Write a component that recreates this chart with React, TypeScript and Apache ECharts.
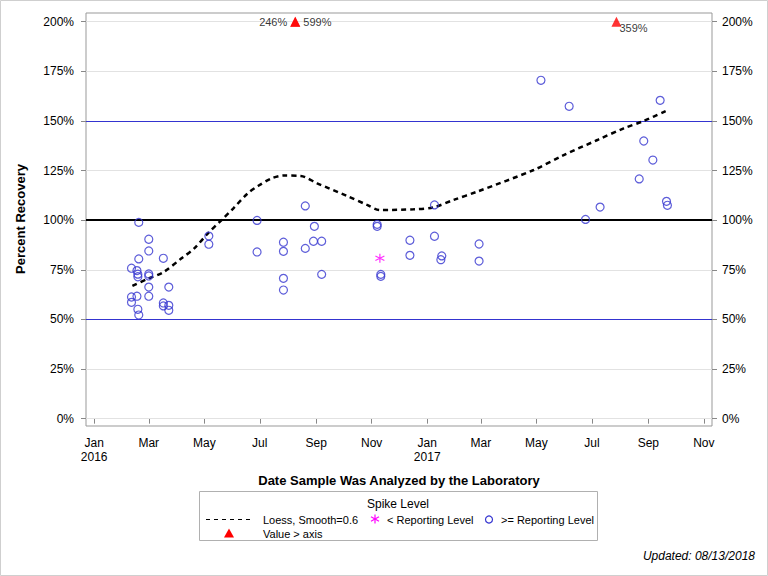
import React, { useEffect, useRef } from "react";
import * as echarts from "echarts";

// Spike recoveries at or above the reporting level
const reportDates = [
  "2016-02-19", "2016-03-01", "2016-03-01", "2016-02-19", "2016-03-17", "2016-02-11",
  "2016-02-17", "2016-02-18", "2016-02-18", "2016-03-01", "2016-03-01", "2016-03-01",
  "2016-03-23", "2016-02-11", "2016-02-11", "2016-02-17", "2016-03-01", "2016-03-17",
  "2016-03-17", "2016-03-23", "2016-03-23", "2016-02-18", "2016-02-19", "2016-05-06",
  "2016-05-06", "2016-06-28", "2016-06-28", "2016-07-27", "2016-07-27", "2016-07-27",
  "2016-07-27", "2016-08-20", "2016-08-20", "2016-08-30", "2016-08-29", "2016-09-07",
  "2016-09-07", "2016-11-07", "2016-11-07", "2016-11-11", "2016-11-11", "2016-12-13",
  "2016-12-13", "2017-01-09", "2017-01-09", "2017-01-17", "2017-01-16", "2017-02-27",
  "2017-02-27", "2017-05-06", "2017-06-06", "2017-06-24", "2017-07-10", "2017-08-22",
  "2017-08-27", "2017-09-06", "2017-09-14", "2017-09-21", "2017-09-22",
];
const reportValues = [
  98.9, 90.4, 84.5, 80.5, 80.8, 75.8,
  74.6, 72.8, 71.5, 72.9, 71.9, 66.3,
  66.3, 61.3, 58.6, 61.7, 61.7, 58.3,
  56.8, 57.1, 54.6, 55.1, 52.2, 92.0,
  87.9, 99.9, 84.0, 88.9, 84.3, 70.7,
  64.8, 107.2, 85.8, 96.9, 89.4, 89.4,
  72.7, 97.9, 96.9, 72.7, 71.7, 89.9,
  82.3, 107.7, 91.9, 82.0, 80.1, 88.0,
  79.4, 170.5, 157.4, 100.4, 106.6, 120.8,
  139.9, 130.3, 160.4, 109.5, 107.5,
];

// Spike recoveries below the reporting level
const belowDates = ["2016-11-10"];
const belowValues = [80.8];

// Recoveries beyond the top of the axis
const overDates = ["2016-08-09", "2016-08-09", "2017-07-28"];
const overValues = [246, 599, 359];

// Loess fit (smooth = 0.6)
const loessDates = [
  "2016-02-12", "2016-02-29", "2016-03-17", "2016-04-06", "2016-04-20", "2016-05-05",
  "2016-05-20", "2016-06-02", "2016-06-18", "2016-06-29", "2016-07-14", "2016-07-27",
  "2016-08-15", "2016-09-02", "2016-10-05", "2016-10-27", "2016-11-10", "2016-12-17",
  "2017-01-08", "2017-01-30", "2017-02-25", "2017-04-28", "2017-05-31", "2017-07-07",
  "2017-08-05", "2017-08-27", "2017-09-21",
];
const loessValues = [
  66.9, 70.5, 73.8, 80.8, 85.8, 93.4,
  100.1, 106.0, 113.6, 117.2, 121.1, 122.5,
  122.3, 118.6, 112.2, 107.7, 105.1, 105.5,
  106.5, 110.2, 114.4, 125.3, 132.8, 140.4,
  146.3, 150.0, 155.2,
];

const xTickDates = [
  "2016-01-01", "2016-03-01", "2016-05-01", "2016-07-01", "2016-09-01", "2016-11-01",
  "2017-01-01", "2017-03-01", "2017-05-01", "2017-07-01", "2017-09-01", "2017-11-01",
];
const yTicks = [0, 25, 50, 75, 100, 125, 150, 175, 200];
const MONTHS = ["Jan", "Feb", "Mar", "Apr", "May", "Jun", "Jul", "Aug", "Sep", "Oct", "Nov", "Dec"];

const AXIS_TOP = 200;
const FONT = "Liberation Sans, Arial, sans-serif";
const BLUE = "#3434d0";
const ts = (s: string) => Date.parse(s + "T00:00:00Z");

export default function App() {
  const ref = useRef<HTMLDivElement>(null);

  useEffect(() => {
    if (!ref.current) return;
    const chart = echarts.init(ref.current, undefined, { renderer: "svg" });

    const xMin = ts("2015-12-23");
    const xMax = ts("2017-11-10");
    const yMin = -3.7;
    const yMax = 204.4;

    const overLabelCfg = [
      { show: true, position: "left", distance: 3 },
      { show: true, position: "right", distance: 3 },
      { show: true, position: [8, 6] },
    ];

    const yAxisBase = {
      type: "value",
      min: yMin,
      max: yMax,
      splitLine: { show: false },
      axisLine: { show: false },
      axisTick: { show: true, customValues: yTicks, length: 5, lineStyle: { color: "#888" } },
    };

    const option = {
      animation: false,
      backgroundColor: "#fff",
      textStyle: { fontFamily: FONT },
      grid: {
        left: 86,
        right: 56,
        top: 13,
        bottom: 150,
        show: true,
        borderColor: "#999",
        borderWidth: 1,
        backgroundColor: "transparent",
      },
      xAxis: {
        type: "value",
        min: xMin,
        max: xMax,
        splitLine: { show: false },
        axisLine: { show: false },
        axisTick: {
          show: true,
          customValues: xTickDates.map(ts),
          length: 5,
          lineStyle: { color: "#888" },
        },
        axisLabel: {
          customValues: xTickDates.map(ts),
          margin: 10,
          color: "#000",
          fontSize: 12,
          fontFamily: FONT,
          lineHeight: 14,
          formatter: (v: number) => {
            const d = new Date(v);
            const m = d.getUTCMonth();
            return m === 0 ? `${MONTHS[m]}\n${d.getUTCFullYear()}` : MONTHS[m];
          },
        },
      },
      yAxis: [
        {
          ...yAxisBase,
          position: "left",
          axisLabel: {
            customValues: yTicks,
            margin: 12,
            color: "#000",
            fontSize: 12,
            fontFamily: FONT,
            formatter: "{value}%",
          },
        },
        {
          ...yAxisBase,
          position: "right",
          axisLabel: {
            customValues: yTicks,
            margin: 10,
            color: "#000",
            fontSize: 12,
            fontFamily: FONT,
            formatter: "{value}%",
          },
        },
      ],
      series: [
        {
          // grid and reference lines
          type: "line",
          data: [],
          silent: true,
          markLine: {
            silent: true,
            symbol: "none",
            z: 1,
            label: { show: false },
            data: [
              ...[0, 25, 75, 125, 175, 200].map((v) => ({
                yAxis: v,
                lineStyle: { color: "#e2e2e2", width: 1, type: "solid" },
              })),
              ...[50, 150].map((v) => ({
                yAxis: v,
                lineStyle: { color: BLUE, width: 1, type: "solid" },
              })),
              { yAxis: 100, lineStyle: { color: "#000", width: 2, type: "solid" } },
            ],
          },
        },
        {
          name: ">= Reporting Level",
          type: "scatter",
          z: 3,
          symbol: "circle",
          symbolSize: 8,
          itemStyle: { color: "transparent", borderColor: BLUE, borderWidth: 1.2 },
          data: reportDates.map((d, i) => [ts(d), reportValues[i]]),
        },
        {
          name: "< Reporting Level",
          type: "scatter",
          z: 3,
          symbol: "path://M5,0L5,10M0.7,2.5L9.3,7.5M0.7,7.5L9.3,2.5",
          symbolSize: 9,
          itemStyle: { color: "none", borderColor: "#ff00ff", borderWidth: 1.2 },
          data: belowDates.map((d, i) => [ts(d), belowValues[i]]),
        },
        {
          name: "Value > axis",
          type: "scatter",
          z: 4,
          symbol: "triangle",
          symbolSize: 10,
          itemStyle: { color: "#ff0000" },
          label: {
            color: "#000",
            fontSize: 11,
            fontFamily: FONT,
            formatter: (p: any) => `${p.value[2]}%`,
          },
          data: overDates.map((d, i) => ({
            value: [ts(d), Math.min(overValues[i], AXIS_TOP), overValues[i]],
            label: overLabelCfg[i],
          })),
        },
        {
          name: "Loess, Smooth=0.6",
          type: "line",
          z: 2,
          smooth: 0.3,
          symbol: "none",
          lineStyle: { color: "#000", width: 2.5, type: [5, 4] },
          data: loessDates.map((d, i) => [ts(d), loessValues[i]]),
        },
      ],
      graphic: [
        {
          type: "rect",
          shape: { x: 0.5, y: 0.5, width: 767, height: 575 },
          style: { fill: "none", stroke: "#cfcfcf", lineWidth: 1 },
          silent: true,
        },
        {
          type: "text",
          x: 20,
          y: 219,
          rotation: Math.PI / 2,
          style: {
            text: "Percent Recovery",
            font: `bold 13px ${FONT}`,
            fill: "#000",
            align: "center",
            verticalAlign: "middle",
          },
        },
        {
          type: "text",
          x: 399,
          y: 480,
          style: {
            text: "Date Sample Was Analyzed by the Laboratory",
            font: `bold 13px ${FONT}`,
            fill: "#000",
            align: "center",
            verticalAlign: "middle",
          },
        },
        // legend
        {
          type: "rect",
          shape: { x: 199.5, y: 491.5, width: 398, height: 49 },
          style: { fill: "#fff", stroke: "#b0b0b0", lineWidth: 1 },
        },
        {
          type: "text",
          x: 398,
          y: 504,
          style: {
            text: "Spike Level",
            font: `12px ${FONT}`,
            fill: "#000",
            align: "center",
            verticalAlign: "middle",
          },
        },
        {
          type: "line",
          shape: { x1: 206, y1: 519.5, x2: 254, y2: 519.5 },
          style: { stroke: "#000", lineWidth: 1, lineDash: [4, 4] },
        },
        {
          type: "text",
          x: 263,
          y: 519.5,
          style: { text: "Loess, Smooth=0.6", font: `11px ${FONT}`, fill: "#000", verticalAlign: "middle" },
        },
        {
          type: "group",
          x: 375,
          y: 519,
          children: [
            { type: "line", shape: { x1: 0, y1: -4.5, x2: 0, y2: 4.5 }, style: { stroke: "#ff00ff", lineWidth: 1.2 } },
            { type: "line", shape: { x1: -4, y1: -2.3, x2: 4, y2: 2.3 }, style: { stroke: "#ff00ff", lineWidth: 1.2 } },
            { type: "line", shape: { x1: -4, y1: 2.3, x2: 4, y2: -2.3 }, style: { stroke: "#ff00ff", lineWidth: 1.2 } },
          ],
        },
        {
          type: "text",
          x: 387,
          y: 519.5,
          style: { text: "< Reporting Level", font: `11px ${FONT}`, fill: "#000", verticalAlign: "middle" },
        },
        {
          type: "circle",
          shape: { cx: 489, cy: 519.5, r: 3.5 },
          style: { fill: "none", stroke: BLUE, lineWidth: 1.2 },
        },
        {
          type: "text",
          x: 501,
          y: 519.5,
          style: { text: ">= Reporting Level", font: `11px ${FONT}`, fill: "#000", verticalAlign: "middle" },
        },
        {
          type: "polygon",
          shape: { points: [[229, 528.5], [234, 537.5], [224, 537.5]] },
          style: { fill: "#ff0000" },
        },
        {
          type: "text",
          x: 263,
          y: 533.5,
          style: { text: "Value > axis", font: `11px ${FONT}`, fill: "#000", verticalAlign: "middle" },
        },
        {
          type: "text",
          x: 755,
          y: 556,
          style: {
            text: "Updated: 08/13/2018",
            font: `italic 12px ${FONT}`,
            fill: "#000",
            align: "right",
            verticalAlign: "middle",
          },
        },
      ],
    };

    chart.setOption(option as any);
    return () => chart.dispose();
  }, []);

  return (
    <div
      ref={ref}
      style={{ position: "fixed", left: 0, top: 0, width: 768, height: 576, background: "#fff" }}
    />
  );
}
